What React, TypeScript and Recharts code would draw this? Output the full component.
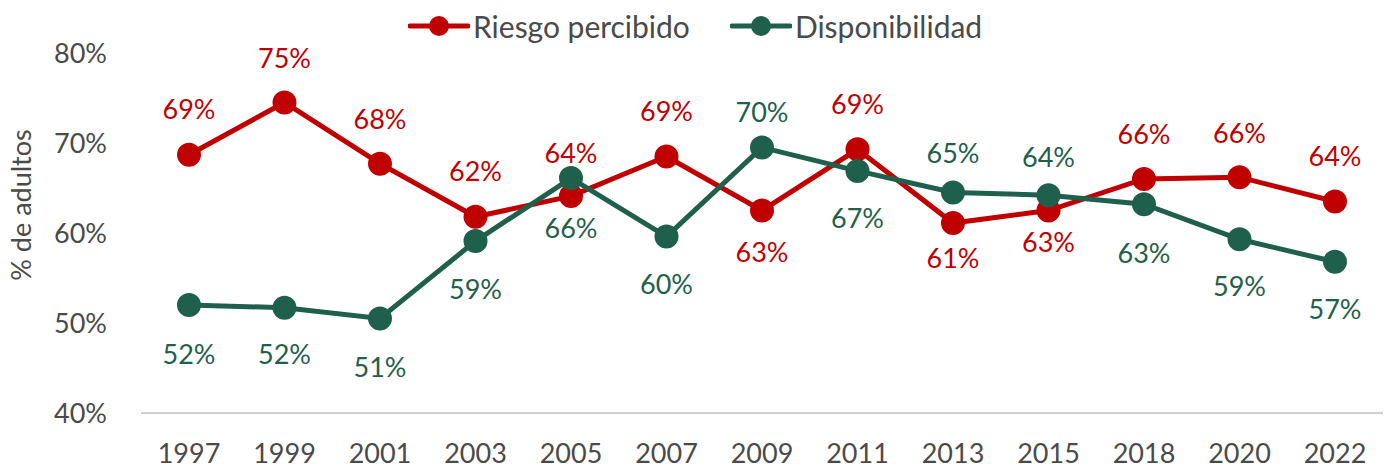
import React from 'react';
import { LineChart, Line, XAxis, YAxis, LabelList, Label } from 'recharts';

const years = ['1997', '1999', '2001', '2003', '2005', '2007', '2009', '2011', '2013', '2015', '2018', '2020', '2022'];
const riesgoPercibido = [68.7, 74.5, 67.7, 61.8, 64.1, 68.5, 62.5, 69.3, 61.1, 62.5, 66.0, 66.2, 63.5];
const disponibilidad = [52.0, 51.7, 50.5, 59.1, 66.1, 59.6, 69.5, 66.9, 64.5, 64.2, 63.2, 59.3, 56.8];
const yTicks = [40, 50, 60, 70, 80];
const seriesNames = ['Riesgo percibido', 'Disponibilidad'];

// label offsets from the dot (negative = above)
const riesgoLabelDy = [-46, -45, -45, -46, -44, -46, 41, -46, 34, 31, -46, -45, -46];
const dispoLabelDy = [48, 46, 48, 47, 49, 47, -36, 47, -40, -39, 48, 46, 47];

const RED = '#C00000';
const GREEN = '#1F604C';
const GRAY = '#4A4A4A';
const FONT = 'Lato, "Open Sans", sans-serif';

const data = years.map((year, i) => ({
    year,
    riesgo: riesgoPercibido[i],
    dispo: disponibilidad[i],
}));

const makeLabel = (color: string, offsets: number[]) => (props: any) => {
    const { x, y, value, index } = props;
    return (
        <text
            x={x}
            y={y + offsets[index]}
            fill={color}
            textAnchor="middle"
            dominantBaseline="central"
            fontSize={27}
            fontFamily={FONT}
        >
            {Math.round(value)}%
        </text>
    );
};

const LegendItem = ({ color, name }: { color: string; name: string }) => (
    <div style={{ display: 'flex', alignItems: 'center' }}>
        <svg width={62} height={24}>
            <line x1={2} y1={12} x2={60} y2={12} stroke={color} strokeWidth={5} strokeLinecap="round" />
            <circle cx={31} cy={12} r={10} fill={color} />
        </svg>
        <span style={{ marginLeft: 3, fontSize: 30, color: GRAY, fontFamily: FONT }}>{name}</span>
    </div>
);

export default function App() {
    return (
        <div style={{ position: 'absolute', left: 0, top: 0, width: 1385, height: 470, background: '#fff' }}>
            <div style={{ position: 'absolute', left: 408, top: 7, display: 'flex', gap: 40, lineHeight: '38px' }}>
                <LegendItem color={RED} name={seriesNames[0]} />
                <LegendItem color={GREEN} name={seriesNames[1]} />
            </div>
            <LineChart width={1385} height={470} data={data} margin={{ top: 53, right: 2, bottom: 0, left: 0 }}>
                <XAxis
                    dataKey="year"
                    height={57}
                    padding={{ left: 48, right: 48 }}
                    tickLine={false}
                    tickSize={0}
                    tickMargin={31}
                    axisLine={{ stroke: '#D0D0D0', strokeWidth: 2 }}
                    tick={{ fill: GRAY, fontSize: 27, fontFamily: FONT }}
                    interval={0}
                />
                <YAxis
                    domain={[40, 80]}
                    ticks={yTicks}
                    width={141}
                    axisLine={false}
                    tickLine={false}
                    tickSize={0}
                    tickMargin={34}
                    tickFormatter={(v: number) => `${v}%`}
                    tick={{ fill: GRAY, fontSize: 27, fontFamily: FONT }}
                >
                    <Label
                        content={() => (
                            <text
                                x={20}
                                y={205}
                                transform="rotate(-90 20 205)"
                                textAnchor="middle"
                                dominantBaseline="central"
                                fill={GRAY}
                                fontSize={27}
                                fontFamily={FONT}
                            >
                                % de adultos
                            </text>
                        )}
                    />
                </YAxis>
                <Line
                    dataKey="riesgo"
                    name={seriesNames[0]}
                    stroke={RED}
                    strokeWidth={5}
                    dot={{ r: 11, fill: RED, stroke: RED, strokeWidth: 2 }}
                    isAnimationActive={false}
                >
                    <LabelList dataKey="riesgo" content={makeLabel(RED, riesgoLabelDy)} />
                </Line>
                <Line
                    dataKey="dispo"
                    name={seriesNames[1]}
                    stroke={GREEN}
                    strokeWidth={5}
                    dot={{ r: 11, fill: GREEN, stroke: GREEN, strokeWidth: 2 }}
                    isAnimationActive={false}
                >
                    <LabelList dataKey="dispo" content={makeLabel(GREEN, dispoLabelDy)} />
                </Line>
            </LineChart>
        </div>
    );
}
